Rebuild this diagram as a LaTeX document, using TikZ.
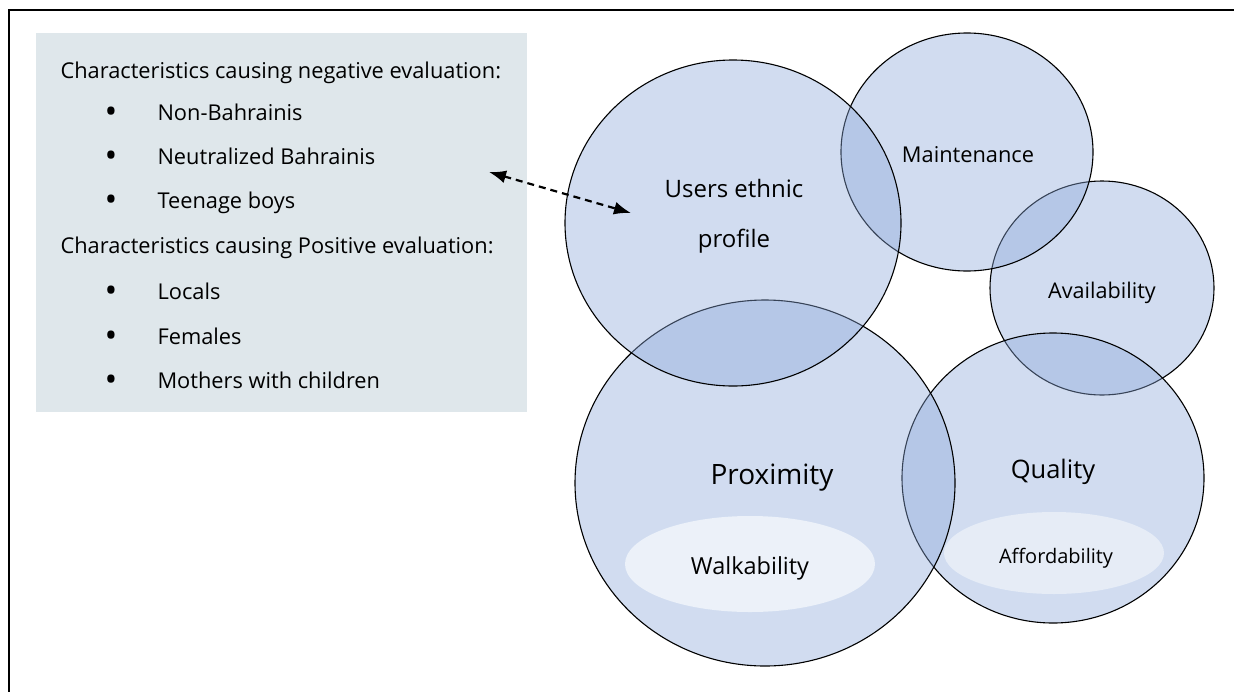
\documentclass[tikz,border=0pt]{standalone}
\usepackage{fontspec}
\setmainfont{Open Sans}
\usetikzlibrary{shapes.geometric,arrows.meta}
\definecolor{bubblefill}{RGB}{139,168,218}
\definecolor{boxfill}{RGB}{223,231,235}

\begin{document}
\begin{tikzpicture}[x=1pt,y=-1pt]
\tikzset{edge/.style = {<->,> = {Latex[length=17pt,width=13pt]}, dash pattern=on 7pt off 5pt, line width=2.2pt}}
\tikzset{bubble/.style = {ellipse, draw, line width=1.1pt, fill=bubblefill, fill opacity=0.4, draw opacity=1, inner sep=0pt}}
\tikzset{hole/.style = {ellipse, fill=white, inner sep=0pt}}
\tikzset{dot/.style = {anchor=base, font=\fontsize{34}{34}\selectfont}}
\tikzstyle{every node}=[font=\fontsize{21.8}{26}\selectfont]
\useasboundingbox (0,0) rectangle (1234,691);
\clip (0,0) rectangle (1234,691);
\draw [line width=2.4pt] (9,10) rectangle (1250,710);
% list of characteristics
\node [fill=boxfill, minimum width=491pt, minimum height=379pt, anchor=north west, inner sep=0pt] at (36,33)(list) {};
\node [anchor=base west] at (57,78)(neg) {Characteristics causing negative evaluation:};
\node [dot] at (111,123)(b1) {•};
\node [dot] at (111,167)(b2) {•};
\node [dot] at (111,211)(b3) {•};
\node [anchor=base west] at (154,120)(n1) {Non-Bahrainis};
\node [anchor=base west] at (154,164)(n2) {Neutralized Bahrainis};
\node [anchor=base west] at (154,208)(n3) {Teenage boys};
\node [anchor=base west] at (57,253)(pos) {Characteristics causing Positive evaluation:};
\node [dot] at (111,302)(b4) {•};
\node [dot] at (111,347)(b5) {•};
\node [dot] at (111,391)(b6) {•};
\node [anchor=base west] at (154,299)(p1) {Locals};
\node [anchor=base west] at (154,344)(p2) {Females};
\node [anchor=base west] at (154,388)(p3) {Mothers with children};
% bubbles
\node [bubble, minimum width=224pt, minimum height=214pt] at (1102,288)(avail) {};
\node [bubble, minimum width=302pt, minimum height=290pt] at (1053,478)(qual) {};
\node [bubble, minimum width=252pt, minimum height=238pt] at (967,152)(maint) {};
\node [bubble, minimum width=380pt, minimum height=366pt] at (765,483)(prox) {};
\node [bubble, minimum width=336pt, minimum height=326pt] at (733,223)(users) {};
\node [hole, fill opacity=0.6, minimum width=250pt, minimum height=96pt] at (750,564)(walk) {};
\node [hole, fill opacity=0.45, minimum width=220pt, minimum height=82pt] at (1054,553)(afford) {};
% labels
\node [anchor=base, font=\fontsize{24}{28}\selectfont] at (734,197)(u1) {Users ethnic};
\node [anchor=base, font=\fontsize{24}{28}\selectfont] at (734,247)(u2) {profile};
\node [anchor=base] at (968,162)(m) {Maintenance};
\node [anchor=base, font=\fontsize{21.6}{26}\selectfont] at (1102,298)(a) {Availability};
\node [anchor=base, font=\fontsize{28}{32}\selectfont] at (772,484)(px) {Proximity};
\node [anchor=base, font=\fontsize{25.5}{30}\selectfont] at (1053,478)(q) {Quality};
\node [anchor=base, font=\fontsize{23.5}{28}\selectfont] at (750,574)(w) {Walkability};
\node [anchor=base, font=\fontsize{20}{24}\selectfont] at (1056,563)(af) {Affordability};
% link
\coordinate (from) at (489,172);
\coordinate (to) at (631,213);
\draw [edge] (from) -- (to);
\end{tikzpicture}
\end{document}
